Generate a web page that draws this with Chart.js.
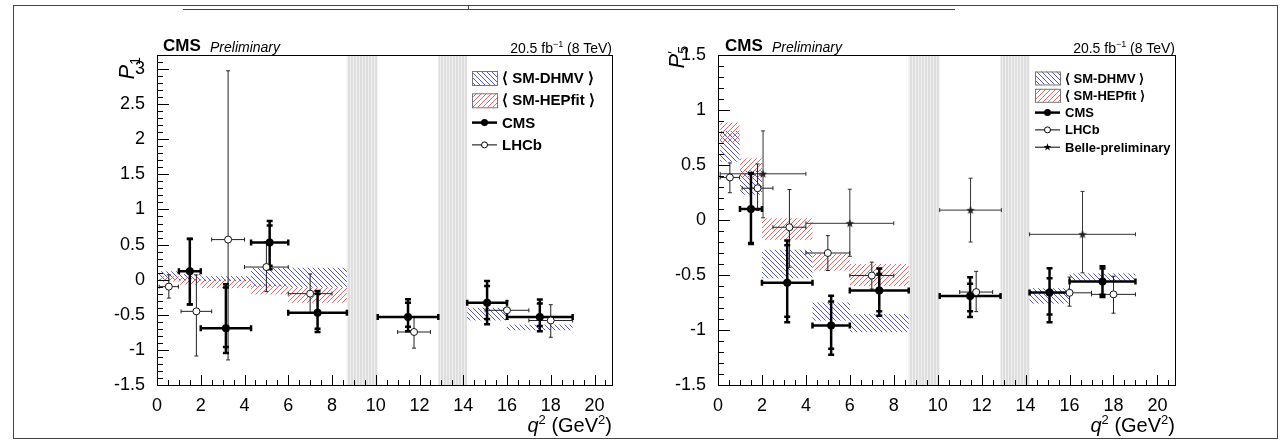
<!DOCTYPE html>
<html>
<head>
<meta charset="utf-8">
<script src="https://cdn.jsdelivr.net/npm/chart.js@4.4.1/dist/chart.umd.min.js"></script>
<style>
  body { margin: 0; background: #fff; width: 1288px; height: 442px; position: relative; overflow: hidden;
         font-family: "Liberation Sans", Arial, sans-serif; color: #000; }
  canvas { position: absolute; top: 0; }
  .t { position: absolute; white-space: nowrap; line-height: 1; z-index: 2; }
  #frame { position: absolute; left: 13px; top: 5px; width: 1263px; height: 432px; border: 1px solid #444; }
  #topline { position: absolute; left: 183px; top: 9px; width: 772px; height: 0; border-top: 1px solid #444; }
  #topmark { position: absolute; left: 468px; top: 5px; width: 0; height: 4px; border-left: 1px solid #444; }
  .ytitle { position: absolute; white-space: nowrap; line-height: 1; font-size: 22px;
            transform-origin: 100% 0; transform: rotate(-90deg); }
</style>
</head>
<body>
<div id="frame"></div>
<div id="topline"></div>
<div id="topmark"></div>
<canvas id="c1" width="640" height="442" style="left:0"></canvas>
<canvas id="c2" width="648" height="442" style="left:640px"></canvas>

<div class="t" style="left:163px;top:37px;font-size:17px;font-weight:bold">CMS</div>
<div class="t" style="left:210px;top:40px;font-size:14px;font-style:italic">Preliminary</div>
<div class="t" style="right:676px;top:40px;font-size:14px">20.5 fb<sup style="font-size:9px">&minus;1</sup> (8 TeV)</div>
<div class="t" style="right:676px;top:413px;font-size:20px"><i>q</i><sup style="font-size:13px">2</sup> (GeV<sup style="font-size:13px">2</sup>)</div>
<div class="ytitle" style="right:1172px;top:57px"><i>P</i><sub style="font-size:14px">1</sub></div>

<div class="t" style="left:725px;top:37px;font-size:17px;font-weight:bold">CMS</div>
<div class="t" style="left:772px;top:40px;font-size:14px;font-style:italic">Preliminary</div>
<div class="t" style="right:113px;top:40px;font-size:14px">20.5 fb<sup style="font-size:9px">&minus;1</sup> (8 TeV)</div>
<div class="t" style="right:113px;top:413px;font-size:20px"><i>q</i><sup style="font-size:13px">2</sup> (GeV<sup style="font-size:13px">2</sup>)</div>
<div class="ytitle" style="right:622px;top:46px"><i>P</i><span style="display:inline-block;vertical-align:-4px;font-size:14px;line-height:10px;text-align:left">&prime;<br>5</span></div>

<script>
// q2 veto regions (J/psi and psi(2S))
const vetoLo = [8.68, 12.86];
const vetoHi = [10.09, 14.18];

// CMS 8 TeV
const cmsLo = [1, 2, 4.3, 6, 10.09, 14.18, 16];
const cmsHi = [2, 4.3, 6, 8.68, 12.86, 16, 19];
const cmsP1 = [0.12, -0.69, 0.53, -0.47, -0.53, -0.33, -0.53];
const cmsP1StatUp = [0.46, 0.58, 0.24, 0.27, 0.20, 0.24, 0.19];
const cmsP1StatDn = [0.47, 0.27, 0.33, 0.23, 0.14, 0.23, 0.13];
const cmsP1Syst = [0.06, 0.23, 0.19, 0.15, 0.15, 0.20, 0.16];
const cmsP5 = [0.10, -0.57, -0.96, -0.64, -0.69, -0.66, -0.56];
const cmsP5StatUp = [0.32, 0.34, 0.22, 0.15, 0.11, 0.13, 0.12];
const cmsP5StatDn = [0.31, 0.31, 0.21, 0.19, 0.14, 0.20, 0.12];
const cmsP5Syst = [0.07, 0.18, 0.16, 0.13, 0.13, 0.18, 0.07];

// LHCb
const lhcbLo = [0.1, 1.1, 2.5, 4, 6, 11, 15, 17];
const lhcbHi = [0.98, 2.5, 4, 6, 8, 12.5, 17, 19];
const lhcbP1 = [-0.099, -0.451, 0.571, 0.180, -0.199, -0.745, -0.436, -0.581];
const lhcbP1Up = [0.168, 0.519, 2.404, 0.364, 0.281, 0.207, 0.134, 0.225];
const lhcbP1Dn = [0.163, 0.636, 1.714, 0.348, 0.275, 0.230, 0.128, 0.239];
const lhcbP5 = [0.387, 0.289, -0.066, -0.300, -0.505, -0.655, -0.662, -0.676];
const lhcbP5Up = [0.132, 0.220, 0.343, 0.158, 0.122, 0.188, 0.143, 0.165];
const lhcbP5Dn = [0.139, 0.202, 0.364, 0.159, 0.122, 0.178, 0.121, 0.171];

// Belle preliminary (P5' only)
const belleLo = [0.1, 4, 10.09, 14.18];
const belleHi = [4, 8, 12.9, 19];
const belleP5 = [0.42, -0.03, 0.09, -0.13];
const belleP5Up = [0.39, 0.31, 0.29, 0.39];
const belleP5Dn = [0.40, 0.30, 0.29, 0.35];

// SM predictions (bands)
const dhmvLo = [0.1, 1, 2, 4.3, 6, 14.18, 16];
const dhmvHi = [0.98, 2, 4.3, 6, 8.68, 16, 19];
const dhmvP1Min = [0.0, -0.01, -0.02, -0.10, -0.11, -0.58, -0.72];
const dhmvP1Max = [0.12, 0.08, 0.05, 0.17, 0.17, -0.40, -0.64];
const dhmvP5Min = [0.53, 0.23, -0.53, -0.915, -1.02, -0.76, -0.56];
const dhmvP5Max = [0.81, 0.45, -0.27, -0.75, -0.855, -0.62, -0.485];

const hepfitLo = [0.1, 1, 2, 4.3, 6];
const hepfitHi = [0.98, 2, 4.3, 6, 8.68];
const hepfitP1Min = [-0.03, -0.07, -0.12, -0.21, -0.33];
const hepfitP1Max = [0.05, 0.03, 0.0, -0.07, -0.11];
const hepfitP5Min = [0.70, 0.38, -0.18, -0.46, -0.60];
const hepfitP5Max = [0.885, 0.56, 0.015, -0.31, -0.40];

const FONT = '"Liberation Sans", Arial, sans-serif';
const mid = (a, b) => (a + b) / 2;

function hatch(color, slash) {
    const s = 5;
    const c = document.createElement('canvas');
    c.width = s; c.height = s;
    const g = c.getContext('2d');
    g.strokeStyle = color;
    g.lineWidth = 1;
    g.beginPath();
    for (const k of [-s, 0, s]) {
        if (slash) { g.moveTo(k, s); g.lineTo(k + s, 0); }
        else { g.moveTo(k, 0); g.lineTo(k + s, s); }
    }
    g.stroke();
    return g.createPattern(c, 'repeat');
}

function grayStripes() {
    const c = document.createElement('canvas');
    c.width = 3; c.height = 1;
    const g = c.getContext('2d');
    g.fillStyle = '#dedede'; g.fillRect(0, 0, 2, 1);
    g.fillStyle = '#efefef'; g.fillRect(2, 0, 1, 1);
    return g.createPattern(c, 'repeat');
}

// small filled star, used as a point style
function starPath(g, cx, cy, ro, ri) {
    g.beginPath();
    for (let k = 0; k < 10; k++) {
        const ang = -Math.PI / 2 + k * Math.PI / 5;
        const rr = k % 2 ? ri : ro;
        g.lineTo(cx + rr * Math.cos(ang), cy + rr * Math.sin(ang));
    }
    g.closePath();
}
function starImage() {
    const c = document.createElement('canvas');
    c.width = 10; c.height = 10;
    const g = c.getContext('2d');
    g.fillStyle = '#222';
    starPath(g, 5, 5.4, 4.5, 1.9);
    g.fill();
    return c;
}

const bluePat = hatch('rgba(70,70,190,0.9)', false);
const redPat = hatch('rgba(225,85,85,0.9)', true);
const grayPat = grayStripes();
const starImg = starImage();

// one error bar with end ticks
function errBar(ctx, xl, xr, xc, yc, yTop, yBot, cap, lw) {
    ctx.lineWidth = lw;
    ctx.beginPath();
    ctx.moveTo(xl, yc); ctx.lineTo(xr, yc);
    ctx.moveTo(xl, yc - cap); ctx.lineTo(xl, yc + cap);
    ctx.moveTo(xr, yc - cap); ctx.lineTo(xr, yc + cap);
    ctx.moveTo(xc, yTop); ctx.lineTo(xc, yBot);
    ctx.moveTo(xc - cap, yTop); ctx.lineTo(xc + cap, yTop);
    ctx.moveTo(xc - cap, yBot); ctx.lineTo(xc + cap, yBot);
    ctx.stroke();
}

function makePlugin(cfg) {
    return {
        id: 'hep',
        beforeDatasetsDraw(chart) {
            const { ctx, chartArea: a, scales: { x, y } } = chart;
            ctx.save();
            ctx.beginPath();
            ctx.rect(a.left, a.top, a.width, a.height);
            ctx.clip();

            // vetoed q2 regions
            ctx.fillStyle = grayPat;
            vetoLo.forEach((lo, i) => {
                const x0 = x.getPixelForValue(lo), x1 = x.getPixelForValue(vetoHi[i]);
                ctx.fillRect(x0, a.top, x1 - x0, a.height);
            });

            // SM bands
            const band = (lo, hi, mn, mx, pat) => {
                ctx.fillStyle = pat;
                lo.forEach((l, i) => {
                    const x0 = x.getPixelForValue(l), x1 = x.getPixelForValue(hi[i]);
                    const y0 = y.getPixelForValue(mx[i]), y1 = y.getPixelForValue(mn[i]);
                    ctx.fillRect(x0, y0, x1 - x0, y1 - y0);
                });
            };
            band(dhmvLo, dhmvHi, cfg.dhmvMin, cfg.dhmvMax, bluePat);
            band(hepfitLo, hepfitHi, cfg.hepMin, cfg.hepMax, redPat);

            // Belle
            if (cfg.belle) {
                ctx.strokeStyle = '#333';
                belleLo.forEach((l, i) => {
                    const v = cfg.belle[i];
                    errBar(ctx, x.getPixelForValue(l), x.getPixelForValue(belleHi[i]),
                        x.getPixelForValue(mid(l, belleHi[i])), y.getPixelForValue(v),
                        y.getPixelForValue(v + cfg.belleUp[i]), y.getPixelForValue(v - cfg.belleDn[i]), 2, 1);
                });
            }

            // LHCb
            ctx.strokeStyle = '#222';
            lhcbLo.forEach((l, i) => {
                const v = cfg.lhcb[i];
                errBar(ctx, x.getPixelForValue(l), x.getPixelForValue(lhcbHi[i]),
                    x.getPixelForValue(mid(l, lhcbHi[i])), y.getPixelForValue(v),
                    y.getPixelForValue(v + cfg.lhcbUp[i]), y.getPixelForValue(v - cfg.lhcbDn[i]), 2, 1);
            });

            // CMS: stat and total uncertainties
            ctx.strokeStyle = '#000';
            cmsLo.forEach((l, i) => {
                const v = cfg.cms[i];
                const tu = Math.hypot(cfg.cmsStatUp[i], cfg.cmsSyst[i]);
                const td = Math.hypot(cfg.cmsStatDn[i], cfg.cmsSyst[i]);
                const xc = x.getPixelForValue(mid(l, cmsHi[i]));
                errBar(ctx, x.getPixelForValue(l), x.getPixelForValue(cmsHi[i]), xc, y.getPixelForValue(v),
                    y.getPixelForValue(v + tu), y.getPixelForValue(v - td), 3, 2.5);
                ctx.beginPath();
                [v + cfg.cmsStatUp[i], v - cfg.cmsStatDn[i]].forEach(w => {
                    const yy = y.getPixelForValue(w);
                    ctx.moveTo(xc - 3, yy); ctx.lineTo(xc + 3, yy);
                });
                ctx.stroke();
            });
            ctx.restore();
        },
        afterDraw(chart) {
            const { ctx, chartArea: a, scales: { x, y } } = chart;
            ctx.save();
            // frame + inward ticks
            ctx.strokeStyle = '#000';
            ctx.lineWidth = 1;
            ctx.strokeRect(Math.round(a.left) + 0.5, Math.round(a.top) + 0.5, Math.round(a.width), Math.round(a.height));
            ctx.beginPath();
            for (let v = y.min, k = 0; v <= y.max + 1e-9; v = y.min + (++k) * 0.1) {
                const yy = Math.round(y.getPixelForValue(v)) + 0.5;
                const len = (k % 5 === 0) ? 12 : 6;
                ctx.moveTo(a.left, yy); ctx.lineTo(a.left + len, yy);
            }
            for (let v = 0, k = 0; v <= x.max + 1e-9; v = (++k) * 0.5) {
                const xx = Math.round(x.getPixelForValue(v)) + 0.5;
                const len = (k % 4 === 0) ? 10 : 5;
                ctx.moveTo(xx, a.bottom); ctx.lineTo(xx, a.bottom - len);
            }
            ctx.stroke();

            // legend
            const L = cfg.legend;
            ctx.font = 'bold ' + L.size + 'px ' + FONT;
            ctx.textBaseline = 'middle';
            L.rows.forEach((r, i) => {
                const cy = L.y + i * L.dy;
                if (r.kind === 'box') {
                    ctx.fillStyle = r.pat;
                    ctx.fillRect(L.x, cy - L.bh / 2, L.bw, L.bh);
                    ctx.strokeStyle = '#777';
                    ctx.lineWidth = 1;
                    ctx.strokeRect(L.x + 0.5, cy - L.bh / 2 + 0.5, L.bw, L.bh);
                } else {
                    ctx.strokeStyle = '#000';
                    ctx.lineWidth = r.kind === 'cms' ? 2.5 : 1;
                    ctx.beginPath();
                    ctx.moveTo(L.x, cy); ctx.lineTo(L.x + L.bw, cy);
                    ctx.stroke();
                    const cx = L.x + L.bw / 2;
                    if (r.kind === 'cms') {
                        ctx.fillStyle = '#000';
                        ctx.beginPath(); ctx.arc(cx, cy, 3.5, 0, 2 * Math.PI); ctx.fill();
                    } else if (r.kind === 'lhcb') {
                        ctx.fillStyle = '#fff';
                        ctx.beginPath(); ctx.arc(cx, cy, 3, 0, 2 * Math.PI); ctx.fill(); ctx.stroke();
                    } else {
                        ctx.fillStyle = '#000';
                        starPath(ctx, cx, cy, 4, 1.6);
                        ctx.fill();
                    }
                }
                ctx.fillStyle = '#000';
                ctx.fillText(r.label, L.x + L.bw + 5, cy + 1);
            });
            ctx.restore();
        }
    };
}

function makeChart(id, cfg) {
    const datasets = [
        {
            label: 'CMS',
            data: cmsLo.map((l, i) => ({ x: mid(l, cmsHi[i]), y: cfg.cms[i] })),
            pointRadius: 4, pointBackgroundColor: '#000', pointBorderColor: '#000', pointBorderWidth: 0
        },
        {
            label: 'LHCb',
            data: lhcbLo.map((l, i) => ({ x: mid(l, lhcbHi[i]), y: cfg.lhcb[i] })),
            pointRadius: 3.5, pointBackgroundColor: '#fff', pointBorderColor: '#111', pointBorderWidth: 1
        }
    ];
    if (cfg.belle) {
        datasets.push({
            label: 'Belle-preliminary',
            data: belleLo.map((l, i) => ({ x: mid(l, belleHi[i]), y: cfg.belle[i] })),
            pointStyle: starImg, pointRadius: 5
        });
    }
    const canvasW = document.getElementById(id).width;
    const fmt = v => String(Math.round(v * 10) / 10);
    return new Chart(document.getElementById(id), {
        type: 'scatter',
        data: { datasets },
        options: {
            responsive: false,
            animation: false,
            devicePixelRatio: 1,
            layout: { padding: { left: 0, top: 55, right: canvasW - cfg.right, bottom: 0 } },
            plugins: { legend: { display: false }, tooltip: { enabled: false } },
            scales: {
                x: {
                    type: 'linear', min: 0, max: 20.8,
                    grid: { display: false }, border: { display: false },
                    ticks: { stepSize: 2, includeBounds: false, padding: 2, color: '#000', callback: fmt,
                             font: { family: FONT, size: 18 } },
                    afterFit: s => { s.height = 57; }
                },
                y: {
                    type: 'linear', min: cfg.ymin, max: cfg.ymax,
                    grid: { display: false }, border: { display: false },
                    ticks: { stepSize: 0.5, includeBounds: false, padding: 4, color: '#000', callback: fmt,
                             font: { family: FONT, size: 18 } },
                    afterFit: s => { s.width = cfg.left; }
                }
            }
        },
        plugins: [makePlugin(cfg)]
    });
}

makeChart('c1', {
    left: 157, right: 612, ymin: -1.5, ymax: 3.2,
    cms: cmsP1, cmsStatUp: cmsP1StatUp, cmsStatDn: cmsP1StatDn, cmsSyst: cmsP1Syst,
    lhcb: lhcbP1, lhcbUp: lhcbP1Up, lhcbDn: lhcbP1Dn,
    dhmvMin: dhmvP1Min, dhmvMax: dhmvP1Max, hepMin: hepfitP1Min, hepMax: hepfitP1Max,
    legend: {
        x: 472, y: 78, dy: 22.3, bw: 25, bh: 14, size: 15,
        rows: [
            { kind: 'box', pat: bluePat, label: '\u27E8 SM-DHMV \u27E9' },
            { kind: 'box', pat: redPat, label: '\u27E8 SM-HEPfit \u27E9' },
            { kind: 'cms', label: 'CMS' },
            { kind: 'lhcb', label: 'LHCb' }
        ]
    }
});

makeChart('c2', {
    left: 78, right: 535, ymin: -1.5, ymax: 1.5,
    cms: cmsP5, cmsStatUp: cmsP5StatUp, cmsStatDn: cmsP5StatDn, cmsSyst: cmsP5Syst,
    lhcb: lhcbP5, lhcbUp: lhcbP5Up, lhcbDn: lhcbP5Dn,
    belle: belleP5, belleUp: belleP5Up, belleDn: belleP5Dn,
    dhmvMin: dhmvP5Min, dhmvMax: dhmvP5Max, hepMin: hepfitP5Min, hepMax: hepfitP5Max,
    legend: {
        x: 395, y: 78, dy: 17.3, bw: 25, bh: 13, size: 13,
        rows: [
            { kind: 'box', pat: bluePat, label: '\u27E8 SM-DHMV \u27E9' },
            { kind: 'box', pat: redPat, label: '\u27E8 SM-HEPfit \u27E9' },
            { kind: 'cms', label: 'CMS' },
            { kind: 'lhcb', label: 'LHCb' },
            { kind: 'belle', label: 'Belle-preliminary' }
        ]
    }
});
</script>
</body>
</html>
